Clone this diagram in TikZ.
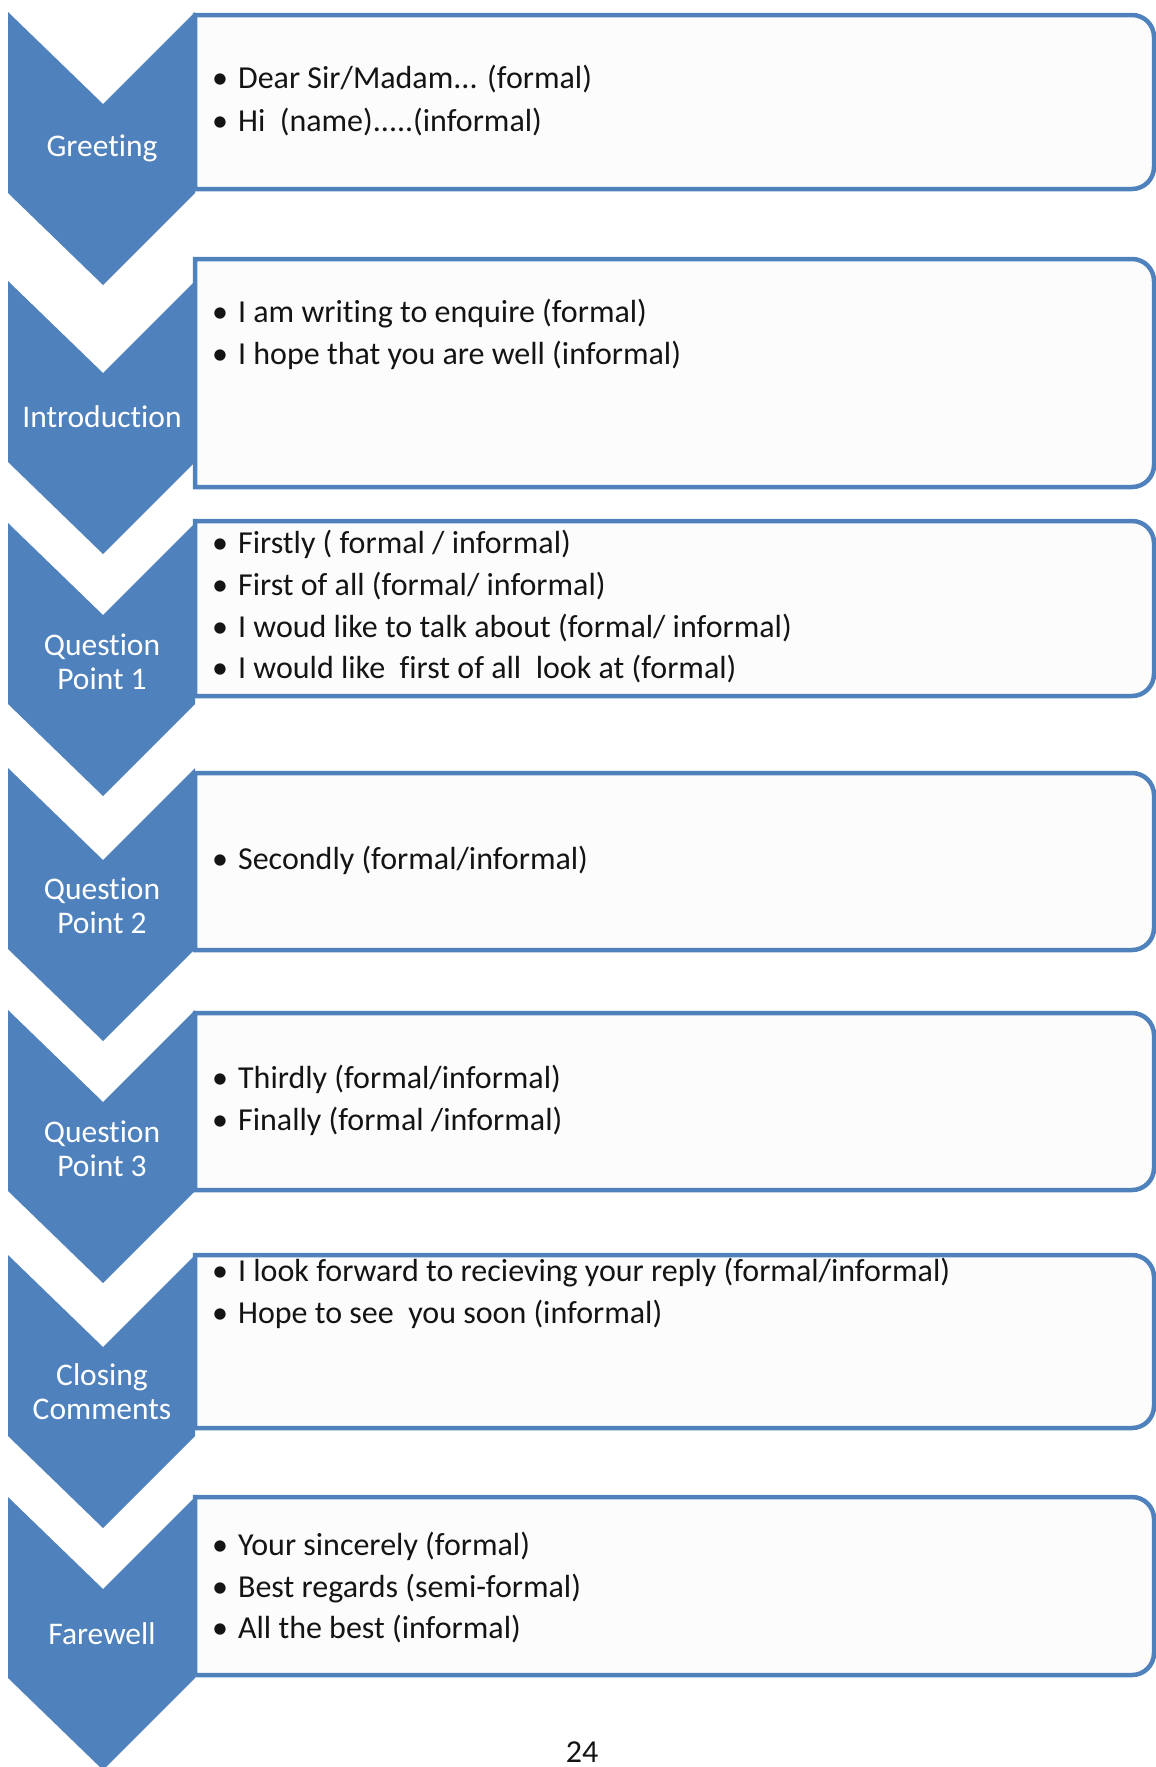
\documentclass[tikz,border=0pt]{standalone}
\usepackage{fontspec}
\setmainfont{Carlito}[Ligatures=NoCommon]
\usepackage{tikz}

\definecolor{chevblue}{HTML}{4F81BD}
\definecolor{panelfill}{HTML}{FCFCFD}
\definecolor{inktext}{HTML}{141414}

\tikzset{
  chev/.style={fill=chevblue},
  panel/.style={draw=chevblue, line width=4.5pt, fill=panelfill},
  stage/.style={text=white, align=center, inner sep=0pt, font=\fontsize{31.5}{34}\selectfont},
  entry/.style={anchor=base west, inner sep=0pt, text=inktext, font=\fontsize{32}{37}\selectfont},
}

\begin{document}
\begin{tikzpicture}[x=1pt,y=1pt]
  \useasboundingbox (0,0) rectangle (1156,-1767);

  % panels
  \draw[panel] (195,-15) -- (1132,-15) arc[start angle=90,end angle=0,radius=22] -- (1154,-167) arc[start angle=0,end angle=-90,radius=22] -- (195,-189) -- cycle;
  \draw[panel] (195,-259) -- (1132,-259) arc[start angle=90,end angle=0,radius=22] -- (1154,-465) arc[start angle=0,end angle=-90,radius=22] -- (195,-487) -- cycle;
  \draw[panel] (195,-521) -- (1132,-521) arc[start angle=90,end angle=0,radius=22] -- (1154,-674) arc[start angle=0,end angle=-90,radius=22] -- (195,-696) -- cycle;
  \draw[panel] (195,-773) -- (1132,-773) arc[start angle=90,end angle=0,radius=22] -- (1154,-928) arc[start angle=0,end angle=-90,radius=22] -- (195,-950) -- cycle;
  \draw[panel] (195,-1013) -- (1132,-1013) arc[start angle=90,end angle=0,radius=22] -- (1154,-1168) arc[start angle=0,end angle=-90,radius=22] -- (195,-1190) -- cycle;
  \draw[panel] (195,-1255) -- (1132,-1255) arc[start angle=90,end angle=0,radius=22] -- (1154,-1406) arc[start angle=0,end angle=-90,radius=22] -- (195,-1428) -- cycle;
  \draw[panel] (195,-1497) -- (1132,-1497) arc[start angle=90,end angle=0,radius=22] -- (1154,-1653) arc[start angle=0,end angle=-90,radius=22] -- (195,-1675) -- cycle;

  % chevrons
  \fill[chev] plot coordinates {(8,-12) (103,-104) (195,-12) (195,-193) (103,-285) (8,-193)} -- cycle;
  \fill[chev] plot coordinates {(8,-281) (103,-373) (195,-281) (195,-462) (103,-554) (8,-462)} -- cycle;
  \fill[chev] plot coordinates {(8,-523) (103,-615) (195,-523) (195,-704) (103,-796) (8,-704)} -- cycle;
  \fill[chev] plot coordinates {(8,-768) (103,-860) (195,-768) (195,-949) (103,-1041) (8,-949)} -- cycle;
  \fill[chev] plot coordinates {(8,-1010) (103,-1102) (195,-1010) (195,-1191) (103,-1283) (8,-1191)} -- cycle;
  \fill[chev] plot coordinates {(8,-1255) (103,-1347) (195,-1255) (195,-1436) (103,-1528) (8,-1436)} -- cycle;
  \fill[chev] plot coordinates {(8,-1497) (103,-1589) (195,-1497) (195,-1678) (103,-1770) (8,-1678)} -- cycle;

  \node[stage] (greet) at (102,-148) {Greeting};
  \node[stage] (intro) at (102,-417) {Introduction};
  \node[stage] (qone) at (102,-662) {Question\\Point 1};
  \node[stage] (qtwo) at (102,-906) {Question\\Point 2};
  \node[stage] (qthree) at (102,-1149) {Question\\Point 3};
  \node[stage] (close) at (102,-1392) {Closing\\Comments};
  \node[stage] (bye) at (102,-1634) {Farewell};

  \node[entry] (greet1) at (212,-88) {\textbullet\hspace{10pt}Dear Sir/Madam... (formal)};
  \node[entry] (greet2) at (212,-131) {\textbullet\hspace{10pt}Hi~~(name).....(informal)};

  \node[entry] (intro1) at (212,-322) {\textbullet\hspace{10pt}I am writing to enquire (formal)};
  \node[entry] (intro2) at (212,-364) {\textbullet\hspace{10pt}I hope that you are well (informal)};

  \node[entry] (qone1) at (212,-553) {\textbullet\hspace{10pt}Firstly ( formal / informal)};
  \node[entry] (qone2) at (212,-595) {\textbullet\hspace{10pt}First of all (formal/ informal)};
  \node[entry] (qone3) at (212,-637) {\textbullet\hspace{10pt}I woud like to talk about (formal/ informal)};
  \node[entry] (qone4) at (212,-678) {\textbullet\hspace{10pt}I would like~~first of all~~look at (formal)};

  \node[entry] (qtwo1) at (212,-869) {\textbullet\hspace{10pt}Secondly (formal/informal)};

  \node[entry] (qthree1) at (212,-1088) {\textbullet\hspace{10pt}Thirdly (formal/informal)};
  \node[entry] (qthree2) at (212,-1130) {\textbullet\hspace{10pt}Finally (formal /informal)};

  \node[entry] (close1) at (212,-1281) {\textbullet\hspace{10pt}I look forward to recieving your reply (formal/informal)};
  \node[entry] (close2) at (212,-1323) {\textbullet\hspace{10pt}Hope to see~~you soon (informal)};

  \node[entry] (bye1) at (212,-1555) {\textbullet\hspace{10pt}Your sincerely (formal)};
  \node[entry] (bye2) at (212,-1597) {\textbullet\hspace{10pt}Best regards (semi-formal)};
  \node[entry] (bye3) at (212,-1638) {\textbullet\hspace{10pt}All the best (informal)};

  \node[entry, anchor=base] (pagenum) at (582,-1762) {24};
\end{tikzpicture}
\end{document}
